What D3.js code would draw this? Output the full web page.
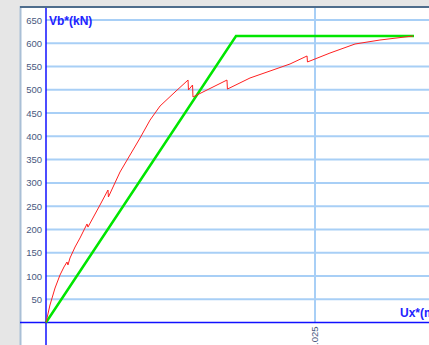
<!DOCTYPE html>
<html>
<head>
<meta charset="utf-8">
<script src="https://cdn.jsdelivr.net/npm/d3@7"></script>
<style>
  html, body { margin: 0; padding: 0; background: #e6e6e6; }
  svg { display: block; }
</style>
</head>
<body>
<svg id="chart" width="429" height="345"></svg>
<script>
// Pushover curve (red) and its bilinear idealisation (green)
const curveUx = [0, 0.00037, 0.00084, 0.00130, 0.00167, 0.00195, 0.00204, 0.00223, 0.00270, 0.00316,
  0.00381, 0.00390, 0.00502, 0.00576, 0.00580, 0.00688, 0.00874, 0.00967, 0.01060, 0.01199,
  0.01320, 0.01324, 0.01362, 0.01366, 0.01682, 0.01686, 0.01896, 0.02082, 0.02268, 0.02426,
  0.02430, 0.02639, 0.02872, 0.03104, 0.03411];
const curveVb = [0, 37.6, 74.1, 102, 119.3, 130, 123.6, 138.6, 162.2, 181.6,
  211.7, 205, 252.5, 284.7, 269.7, 323.4, 396.4, 435, 465.2, 495.3,
  521, 499.6, 510.3, 484.6, 521, 501.6, 525.4, 540.4, 555.5, 572.7,
  559.8, 579, 598.4, 607, 615.6];

const bilinUx = [0, 0.01766, 0.0342];
const bilinVb = [0, 615.6, 615.6];

const yTicks = [50, 100, 150, 200, 250, 300, 350, 400, 450, 500, 550, 600, 650];
const xTicks = [0.025];
const yTitle = "Vb*(kN)";
const xTitle = "Ux*(m)";

const svg = d3.select("#chart");
const W = 429, H = 345;

const x = d3.scaleLinear().domain([0, 0.025]).range([46, 315]);
const y = d3.scaleLinear().domain([0, 650]).range([322.5, 20]);

// panel
svg.append("rect").attr("x", 20).attr("y", 6).attr("width", W - 20).attr("height", H - 6)
  .attr("fill", "#ffffff");
svg.append("line").attr("x1", 20.5).attr("x2", 20.5).attr("y1", 6).attr("y2", H)
  .attr("stroke", "#a9bfd6").attr("stroke-width", 2);
svg.append("line").attr("x1", 20).attr("x2", W).attr("y1", 7).attr("y2", 7)
  .attr("stroke", "#4f6d8c").attr("stroke-width", 2);

// horizontal grid
svg.append("g").selectAll("line").data(yTicks).join("line")
  .attr("x1", x(0)).attr("x2", W)
  .attr("y1", d => y(d)).attr("y2", d => y(d))
  .attr("stroke", "#a8cff6").attr("stroke-width", 2);

// vertical grid
svg.append("g").selectAll("line").data(xTicks).join("line")
  .attr("x1", d => x(d)).attr("x2", d => x(d))
  .attr("y1", 8).attr("y2", y(0))
  .attr("stroke", "#a8cff6").attr("stroke-width", 2);

// y tick labels
const yAxis = d3.axisLeft(y).tickValues(yTicks).tickSize(0).tickPadding(0);
const gy = svg.append("g").attr("transform", "translate(42,0)").call(yAxis);
gy.select(".domain").remove();
gy.selectAll("text").attr("fill", "#48587e").attr("font-family", "Liberation Sans, Arial, sans-serif")
  .attr("font-size", 9.5);

// x tick labels (rotated)
const xAxis = d3.axisBottom(x).tickValues(xTicks).tickSize(0).tickFormat(d3.format(".3f"));
const gx = svg.append("g").attr("transform", `translate(0,${y(0)})`).call(xAxis);
gx.select(".domain").remove();
gx.selectAll("text")
  .attr("fill", "#48587e").attr("font-family", "Liberation Sans, Arial, sans-serif")
  .attr("font-size", 9.5)
  .attr("text-anchor", "end")
  .attr("dy", null)
  .attr("y", 0)
  .attr("transform", "translate(0,4) rotate(-90)")
  .attr("dominant-baseline", "middle");

// axes lines
svg.append("line").attr("x1", 20).attr("x2", W).attr("y1", y(0)).attr("y2", y(0))
  .attr("stroke", "#1010ff").attr("stroke-width", 1.5);
svg.append("line").attr("x1", x(0)).attr("x2", x(0)).attr("y1", 8).attr("y2", H)
  .attr("stroke", "#1010ff").attr("stroke-width", 1.5);

// series
const line = d3.line().x(d => x(d[0])).y(d => y(d[1]));
svg.append("path").datum(bilinUx.map((u, i) => [u, bilinVb[i]]))
  .attr("d", line).attr("fill", "none").attr("stroke", "#00e600").attr("stroke-width", 2.5);
svg.append("path").datum(curveUx.map((u, i) => [u, curveVb[i]]))
  .attr("d", line).attr("fill", "none").attr("stroke", "#ff2020").attr("stroke-width", 1);

// axis titles
svg.append("text").attr("x", 49).attr("y", 25).text(yTitle)
  .attr("fill", "#2222ff").attr("font-weight", "bold").attr("font-size", 12)
  .attr("font-family", "Liberation Sans, Arial, sans-serif");
svg.append("text").attr("x", 400).attr("y", 317).text(xTitle)
  .attr("fill", "#2222ff").attr("font-weight", "bold").attr("font-size", 12)
  .attr("font-family", "Liberation Sans, Arial, sans-serif");
</script>
</body>
</html>
